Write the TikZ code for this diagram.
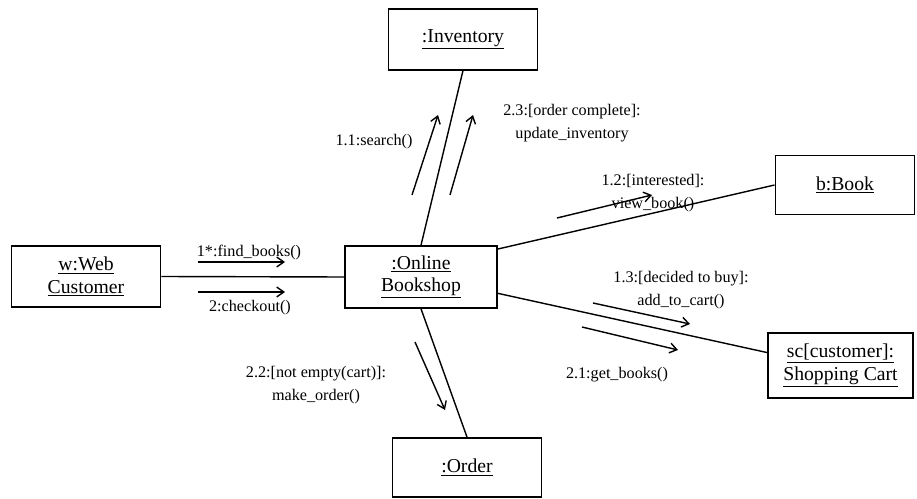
\documentclass[tikz,border=0pt]{standalone}
\usepackage{fontspec}
\setmainfont{Liberation Serif}
\usetikzlibrary{arrows.meta}
\tikzset{
  obj/.style={draw, line width=1.2pt, minimum width=106pt, minimum height=43pt, align=center, inner sep=2pt, font=\fontsize{14}{16}\selectfont},
  link/.style={line width=1pt},
  msg/.style={line width=1pt, ->},
  lbl/.style={align=center, inner sep=0pt, font=\fontsize{11.5}{16}\selectfont}
}
\newcommand{\objname}[1]{\underline{#1}}
\begin{document}
\begin{tikzpicture}[x=0.025cm, y=-0.025cm, >={Straight Barb[length=5pt,width=7pt]}]
\useasboundingbox (0,0) rectangle (917,499);
% objects
\node[obj] (web) at (86,276.5) {\objname{w:Web}\\\objname{Customer}};
\node[obj, minimum width=108pt, minimum height=44pt] (shop) at (421,277) {\objname{:Online}\\\objname{Bookshop}};
\node[obj] (inv) at (463,39.5) {\objname{:Inventory}};
\node[obj, minimum width=99pt, minimum height=42pt] (book) at (845,185) {\objname{b:Book}};
\node[obj, minimum width=103pt, minimum height=46pt] (cart) at (840.5,365.5) {\objname{sc[customer]:}\\\objname{Shopping Cart}};
\node[obj, minimum height=42pt] (order) at (467,467.5) {\objname{:Order}};
% links
\draw[link] (web.east) -- (shop.west);
\draw[link] (shop.north) -- (inv.south);
\draw[link] (shop.20) -- (book.west);
\draw[link] (shop.-12) -- (cart.170);
\draw[link] (shop.south) -- (order.north);
% message arrows
\coordinate (m1a) at (198,262); \coordinate (m1b) at (285,262);
\coordinate (m2a) at (198,292); \coordinate (m2b) at (285,292);
\coordinate (m11a) at (412,195); \coordinate (m11b) at (438,115);
\coordinate (m23a) at (450,195); \coordinate (m23b) at (473,115);
\coordinate (m12a) at (557,218); \coordinate (m12b) at (652,195);
\coordinate (m13a) at (593,303); \coordinate (m13b) at (690,324);
\coordinate (m21a) at (582,327); \coordinate (m21b) at (678,350);
\coordinate (m22a) at (415,342); \coordinate (m22b) at (445,410);
\draw[msg] (m1a) -- (m1b);
\draw[msg] (m2a) -- (m2b);
\draw[msg] (m11a) -- (m11b);
\draw[msg] (m23a) -- (m23b);
\draw[msg] (m12a) -- (m12b);
\draw[msg] (m13a) -- (m13b);
\draw[msg] (m21a) -- (m21b);
\draw[msg] (m22a) -- (m22b);
% labels
\node[lbl] (l1) at (249,253) {1*:find\_books()};
\node[lbl] (l2) at (250,308) {2:checkout()};
\node[lbl] (l11) at (374,142) {1.1:search()};
\node[lbl] (l23) at (572,123) {2.3:[order complete]:\\update\_inventory};
\node[lbl] (l12) at (653,193) {1.2:[interested]:\\view\_book()};
\node[lbl] (l13) at (681,290) {1.3:[decided to buy]:\\add\_to\_cart()};
\node[lbl] (l21) at (617,375) {2.1:get\_books()};
\node[lbl] (l22) at (316,385) {2.2:[not empty(cart)]:\\make\_order()};
\end{tikzpicture}
\end{document}
